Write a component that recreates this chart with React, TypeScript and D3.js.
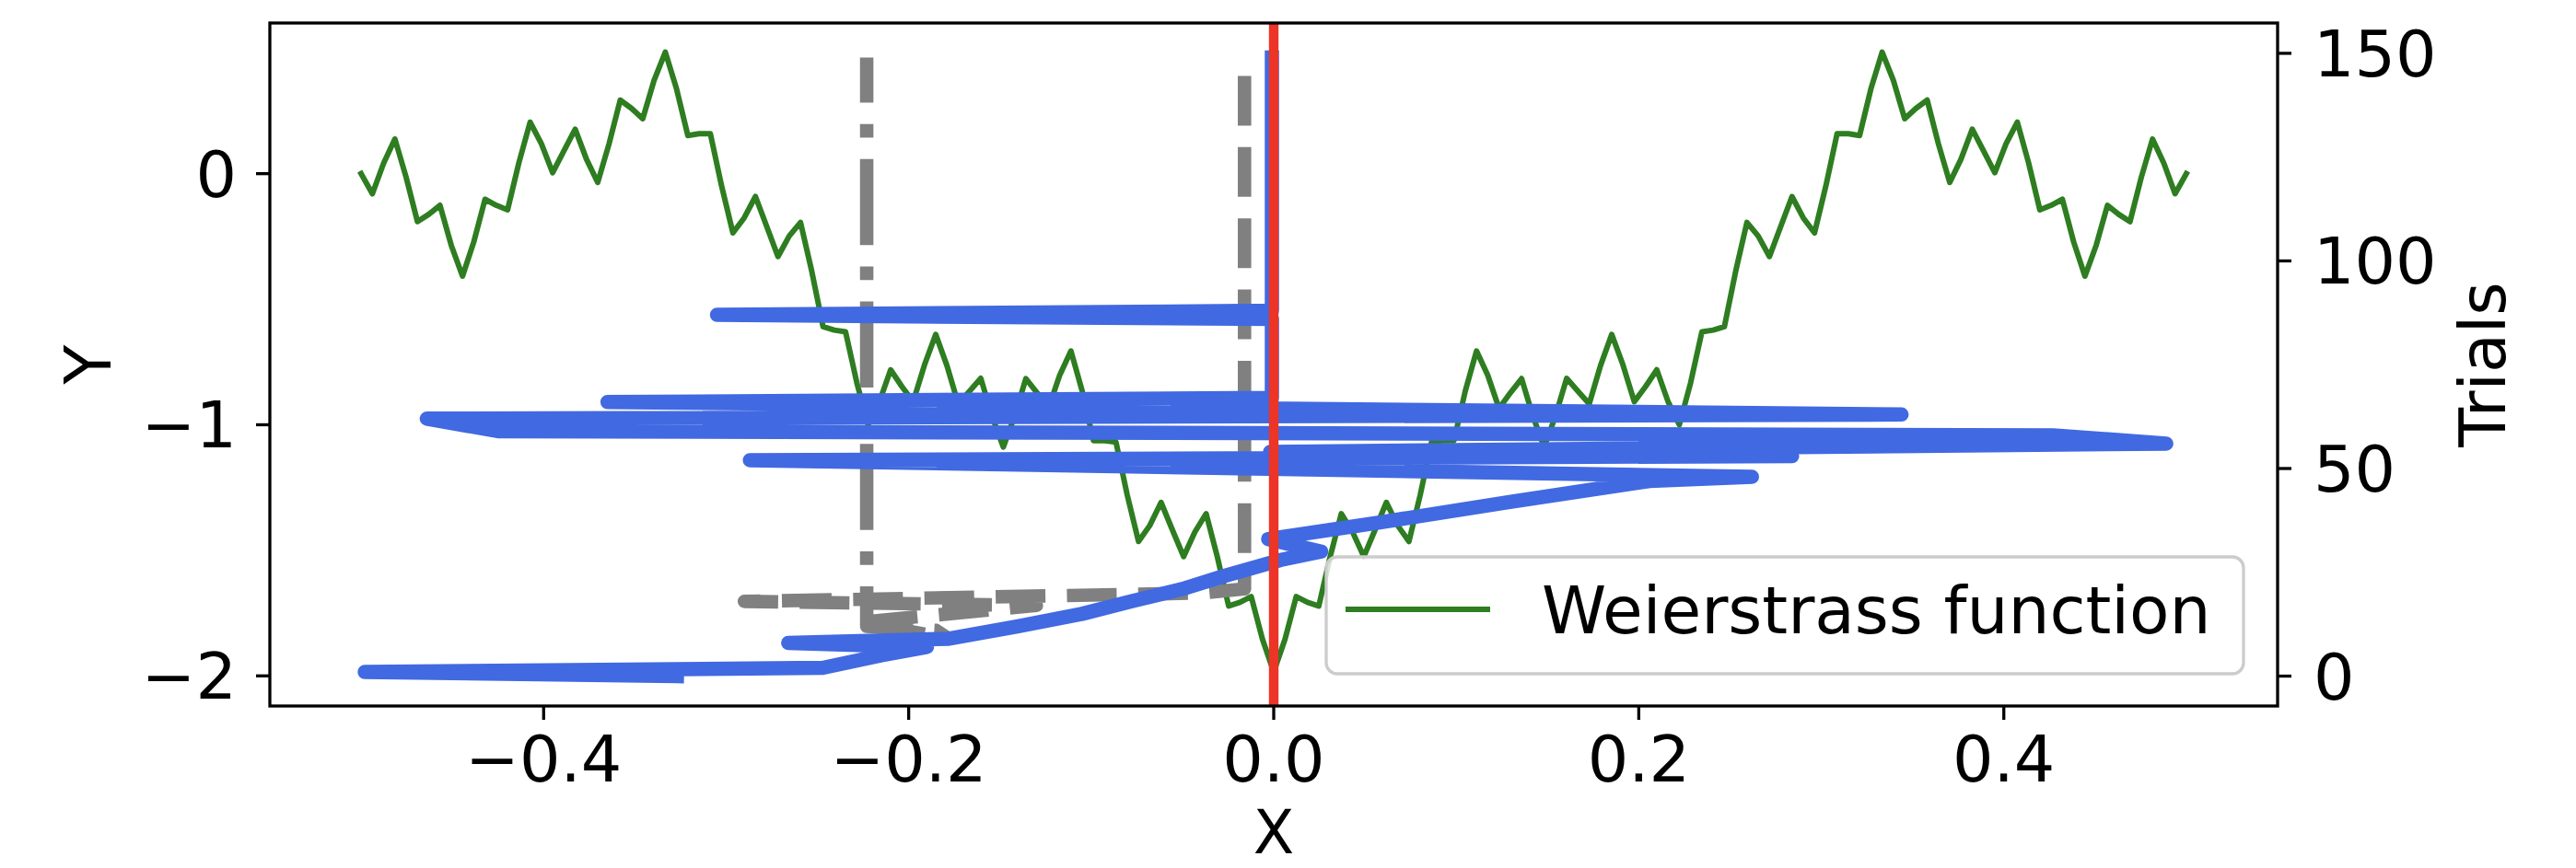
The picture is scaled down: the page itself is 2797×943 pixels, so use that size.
import React from "react";
import * as d3 from "d3";

// ---------------- DATA ----------------
// Weierstrass curve, read on a uniform grid from x = -0.5 to x = 0.5 (163 samples)
const weierstrassXStart = -0.5;
const weierstrassXStep = 1 / 162;
const weierstrassY = [
  0.000, -0.080, 0.042, 0.138, -0.015, -0.191, -0.162, -0.126, -0.285, -0.408,
  -0.272, -0.102, -0.126, -0.144, 0.043, 0.205, 0.119, 0.004, 0.091, 0.177,
  0.058, -0.035, 0.118, 0.293, 0.260, 0.219, 0.371, 0.484, 0.337, 0.152,
  0.159, 0.159, -0.050, -0.236, -0.176, -0.091, -0.210, -0.330, -0.248, -0.194,
  -0.389, -0.609, -0.623, -0.630, -0.833, -1.000, -0.908, -0.781, -0.848, -0.908,
  -0.762, -0.640, -0.765, -0.917, -0.866, -0.815, -0.966, -1.089, -0.965, -0.816,
  -0.873, -0.935, -0.803, -0.706, -0.866, -1.063, -1.063, -1.069, -1.280, -1.465,
  -1.401, -1.309, -1.418, -1.525, -1.427, -1.354, -1.527, -1.722, -1.707, -1.684,
  -1.854,
  -1.984,
  -1.854, -1.684, -1.707, -1.722, -1.527, -1.354, -1.427, -1.525, -1.418, -1.309,
  -1.401, -1.465, -1.280, -1.069, -1.063, -1.063, -0.866, -0.706, -0.803, -0.935,
  -0.873, -0.816, -0.965, -1.089, -0.966, -0.815, -0.866, -0.917, -0.765, -0.640,
  -0.762, -0.908, -0.848, -0.781, -0.908, -1.000, -0.833, -0.630, -0.623, -0.609,
  -0.389, -0.194, -0.248, -0.330, -0.210, -0.091, -0.176, -0.236, -0.050, 0.159,
  0.159, 0.152, 0.337, 0.484, 0.371, 0.219, 0.260, 0.293, 0.118, -0.035,
  0.058, 0.177, 0.091, 0.004, 0.119, 0.205, 0.043, -0.144, -0.126, -0.102,
  -0.272, -0.408, -0.285, -0.126, -0.162, -0.191, -0.015, 0.138, 0.042, -0.080,
  0.000,
];

// Sampled trajectory (blue): vertices as (trial, x)
const blueTrial = [0, 1, 2, 5, 7, 8, 9, 12, 15, 18, 21, 24, 26, 28, 30, 33, 37, 42, 47, 48, 52, 53, 54, 56, 58, 59, 62, 63, 66, 67, 86, 87, 88, 149];
const blueX = [-0.327, -0.498, -0.247, -0.215, -0.19, -0.266, -0.178, -0.14, -0.105, -0.078, -0.05, -0.028, -0.012, 0.004, 0.026, -0.003, 0.058, 0.13, 0.206, 0.262, -0.287, 0.284, -0.002, 0.489, 0.427, -0.425, -0.464, 0.344, -0.365, -0.001, -0.001, -0.305, -0.001, -0.001];

// Gray dashed trajectory
const dashedTrial = [9, 13, 17, 18, 20, 21, 149];
const dashedX = [-0.178, -0.226, -0.13, -0.29, -0.04, -0.016, -0.016];

// Gray dash-dot trajectory
const dashDotTrial = [9, 11, 12, 149];
const dashDotX = [-0.178, -0.185, -0.223, -0.223];

// Optimum marker
const optimumX = 0.0;

// Axes
const xDomain = [-0.55, 0.55];
const yDomain = [-2.12, 0.6];
const trialDomain = [-7.2, 157.3];
const xTicks = [-0.4, -0.2, 0.0, 0.2, 0.4];
const yTicks = [-2, -1, 0];
const trialTicks = [0, 50, 100, 150];
const legendLabel = "Weierstrass function";
const xLabel = "X";
const yLabel = "Y";
const trialLabel = "Trials";

// ---------------- STYLE ----------------
const WIDTH = 2797;
const HEIGHT = 943;
const PL = 293, PR = 2473, PT = 25, PB = 767;
const FONT = "DejaVu Sans";
const FS = 70;
const LW = 15.5;
const GREEN = "#2e7d21";
const BLUE = "#4169E1";
const GRAY = "#808080";
const RED = "#ec3427";

const minus = (s: string) => s.replace(/-/g, "\u2212");

export default function App() {
  const x = d3.scaleLinear().domain(xDomain).range([PL, PR]);
  const y = d3.scaleLinear().domain(yDomain).range([PB, PT]);
  const yt = d3.scaleLinear().domain(trialDomain).range([PB, PT]);

  const greenPts: [number, number][] = weierstrassY.map((v, i) => [weierstrassXStart + i * weierstrassXStep, v]);
  const greenLine = d3.line<[number, number]>().x((d) => x(d[0])).y((d) => y(d[1]));

  const trajLine = d3.line<[number, number]>().x((d) => x(d[0])).y((d) => yt(d[1]));
  const bluePts: [number, number][] = blueX.map((v, i) => [v, blueTrial[i]]);
  const dashedPts: [number, number][] = dashedX.map((v, i) => [v, dashedTrial[i]]).reverse() as [number, number][];
  const dashDotPts: [number, number][] = dashDotX.map((v, i) => [v, dashDotTrial[i]]).reverse() as [number, number][];

  const fmt1 = d3.format(".1f");

  return (
    <svg
      width={WIDTH}
      height={HEIGHT}
      style={{ position: "absolute", left: 0, top: 0, display: "block" }}
      fontFamily={FONT}
    >
      <rect x={0} y={0} width={WIDTH} height={HEIGHT} fill="#ffffff" />
      <defs>
        <clipPath id="plotClip">
          <rect x={PL} y={PT} width={PR - PL} height={PB - PT} />
        </clipPath>
      </defs>
      <g clipPath="url(#plotClip)">
        <path d={greenLine(greenPts) || ""} fill="none" stroke={GREEN} strokeWidth={6} strokeLinejoin="round" strokeLinecap="square" />
        <path
          d={trajLine(dashedPts) || ""}
          fill="none"
          stroke={GRAY}
          strokeWidth={14.6}
          strokeDasharray={`${3.7 * 14.6} ${1.6 * 14.6}`}
          strokeDashoffset={57.4}
          strokeLinejoin="round"
          strokeLinecap="butt"
        />
        <path
          d={trajLine(dashDotPts) || ""}
          fill="none"
          stroke={GRAY}
          strokeWidth={14.6}
          strokeDasharray={`${6.4 * 14.6} ${1.6 * 14.6} ${1.0 * 14.6} ${1.6 * 14.6}`}
          strokeDashoffset={44.4}
          strokeLinejoin="round"
          strokeLinecap="butt"
        />
        <path d={trajLine(bluePts) || ""} fill="none" stroke={BLUE} strokeWidth={LW} strokeLinejoin="round" strokeLinecap="square" />
        <line x1={x(optimumX)} x2={x(optimumX)} y1={PT} y2={PB} stroke={RED} strokeWidth={10.4} />
      </g>

      {/* Legend */}
      <g>
        <rect x={1440} y={605} width={996} height={127} rx={12} ry={12} fill="#ffffff" fillOpacity={0.8} stroke="#cccccc" strokeWidth={3.3} />
        <line x1={1464} x2={1615} y1={662} y2={662} stroke={GREEN} strokeWidth={6} strokeLinecap="square" />
        <text x={1674} y={688} fontSize={71} fill="#000">{legendLabel}</text>
      </g>

      {/* Frame */}
      <rect x={PL} y={PT} width={PR - PL} height={PB - PT} fill="none" stroke="#000" strokeWidth={3.3} />

      {/* X axis */}
      {xTicks.map((t) => (
        <g key={"xt" + t}>
          <line x1={x(t)} x2={x(t)} y1={PB} y2={PB + 15} stroke="#000" strokeWidth={3.3} />
          <text x={x(t)} y={849} fontSize={FS} textAnchor="middle" fill="#000">
            {minus(fmt1(t))}
          </text>
        </g>
      ))}
      <text x={x(0)} y={927} fontSize={65} textAnchor="middle" fill="#000">{xLabel}</text>

      {/* Left Y axis */}
      {yTicks.map((t) => (
        <g key={"yt" + t}>
          <line x1={PL - 15} x2={PL} y1={y(t)} y2={y(t)} stroke="#000" strokeWidth={3.3} />
          <text x={257} y={y(t) + 25} fontSize={FS} textAnchor="end" fill="#000">
            {minus(String(t))}
          </text>
        </g>
      ))}
      <text transform={`translate(120, ${(PT + PB) / 2}) rotate(-90)`} fontSize={FS} textAnchor="middle" fill="#000">
        {yLabel}
      </text>

      {/* Right trials axis */}
      {trialTicks.map((t) => (
        <g key={"rt" + t}>
          <line x1={PR} x2={PR + 15} y1={yt(t)} y2={yt(t)} stroke="#000" strokeWidth={3.3} />
          <text x={2512} y={yt(t) + 25} fontSize={FS} textAnchor="start" fill="#000">
            {String(t)}
          </text>
        </g>
      ))}
      <text transform={`translate(2720, ${(PT + PB) / 2}) rotate(-90)`} fontSize={FS} textAnchor="middle" fill="#000">
        {trialLabel}
      </text>
    </svg>
  );
}
